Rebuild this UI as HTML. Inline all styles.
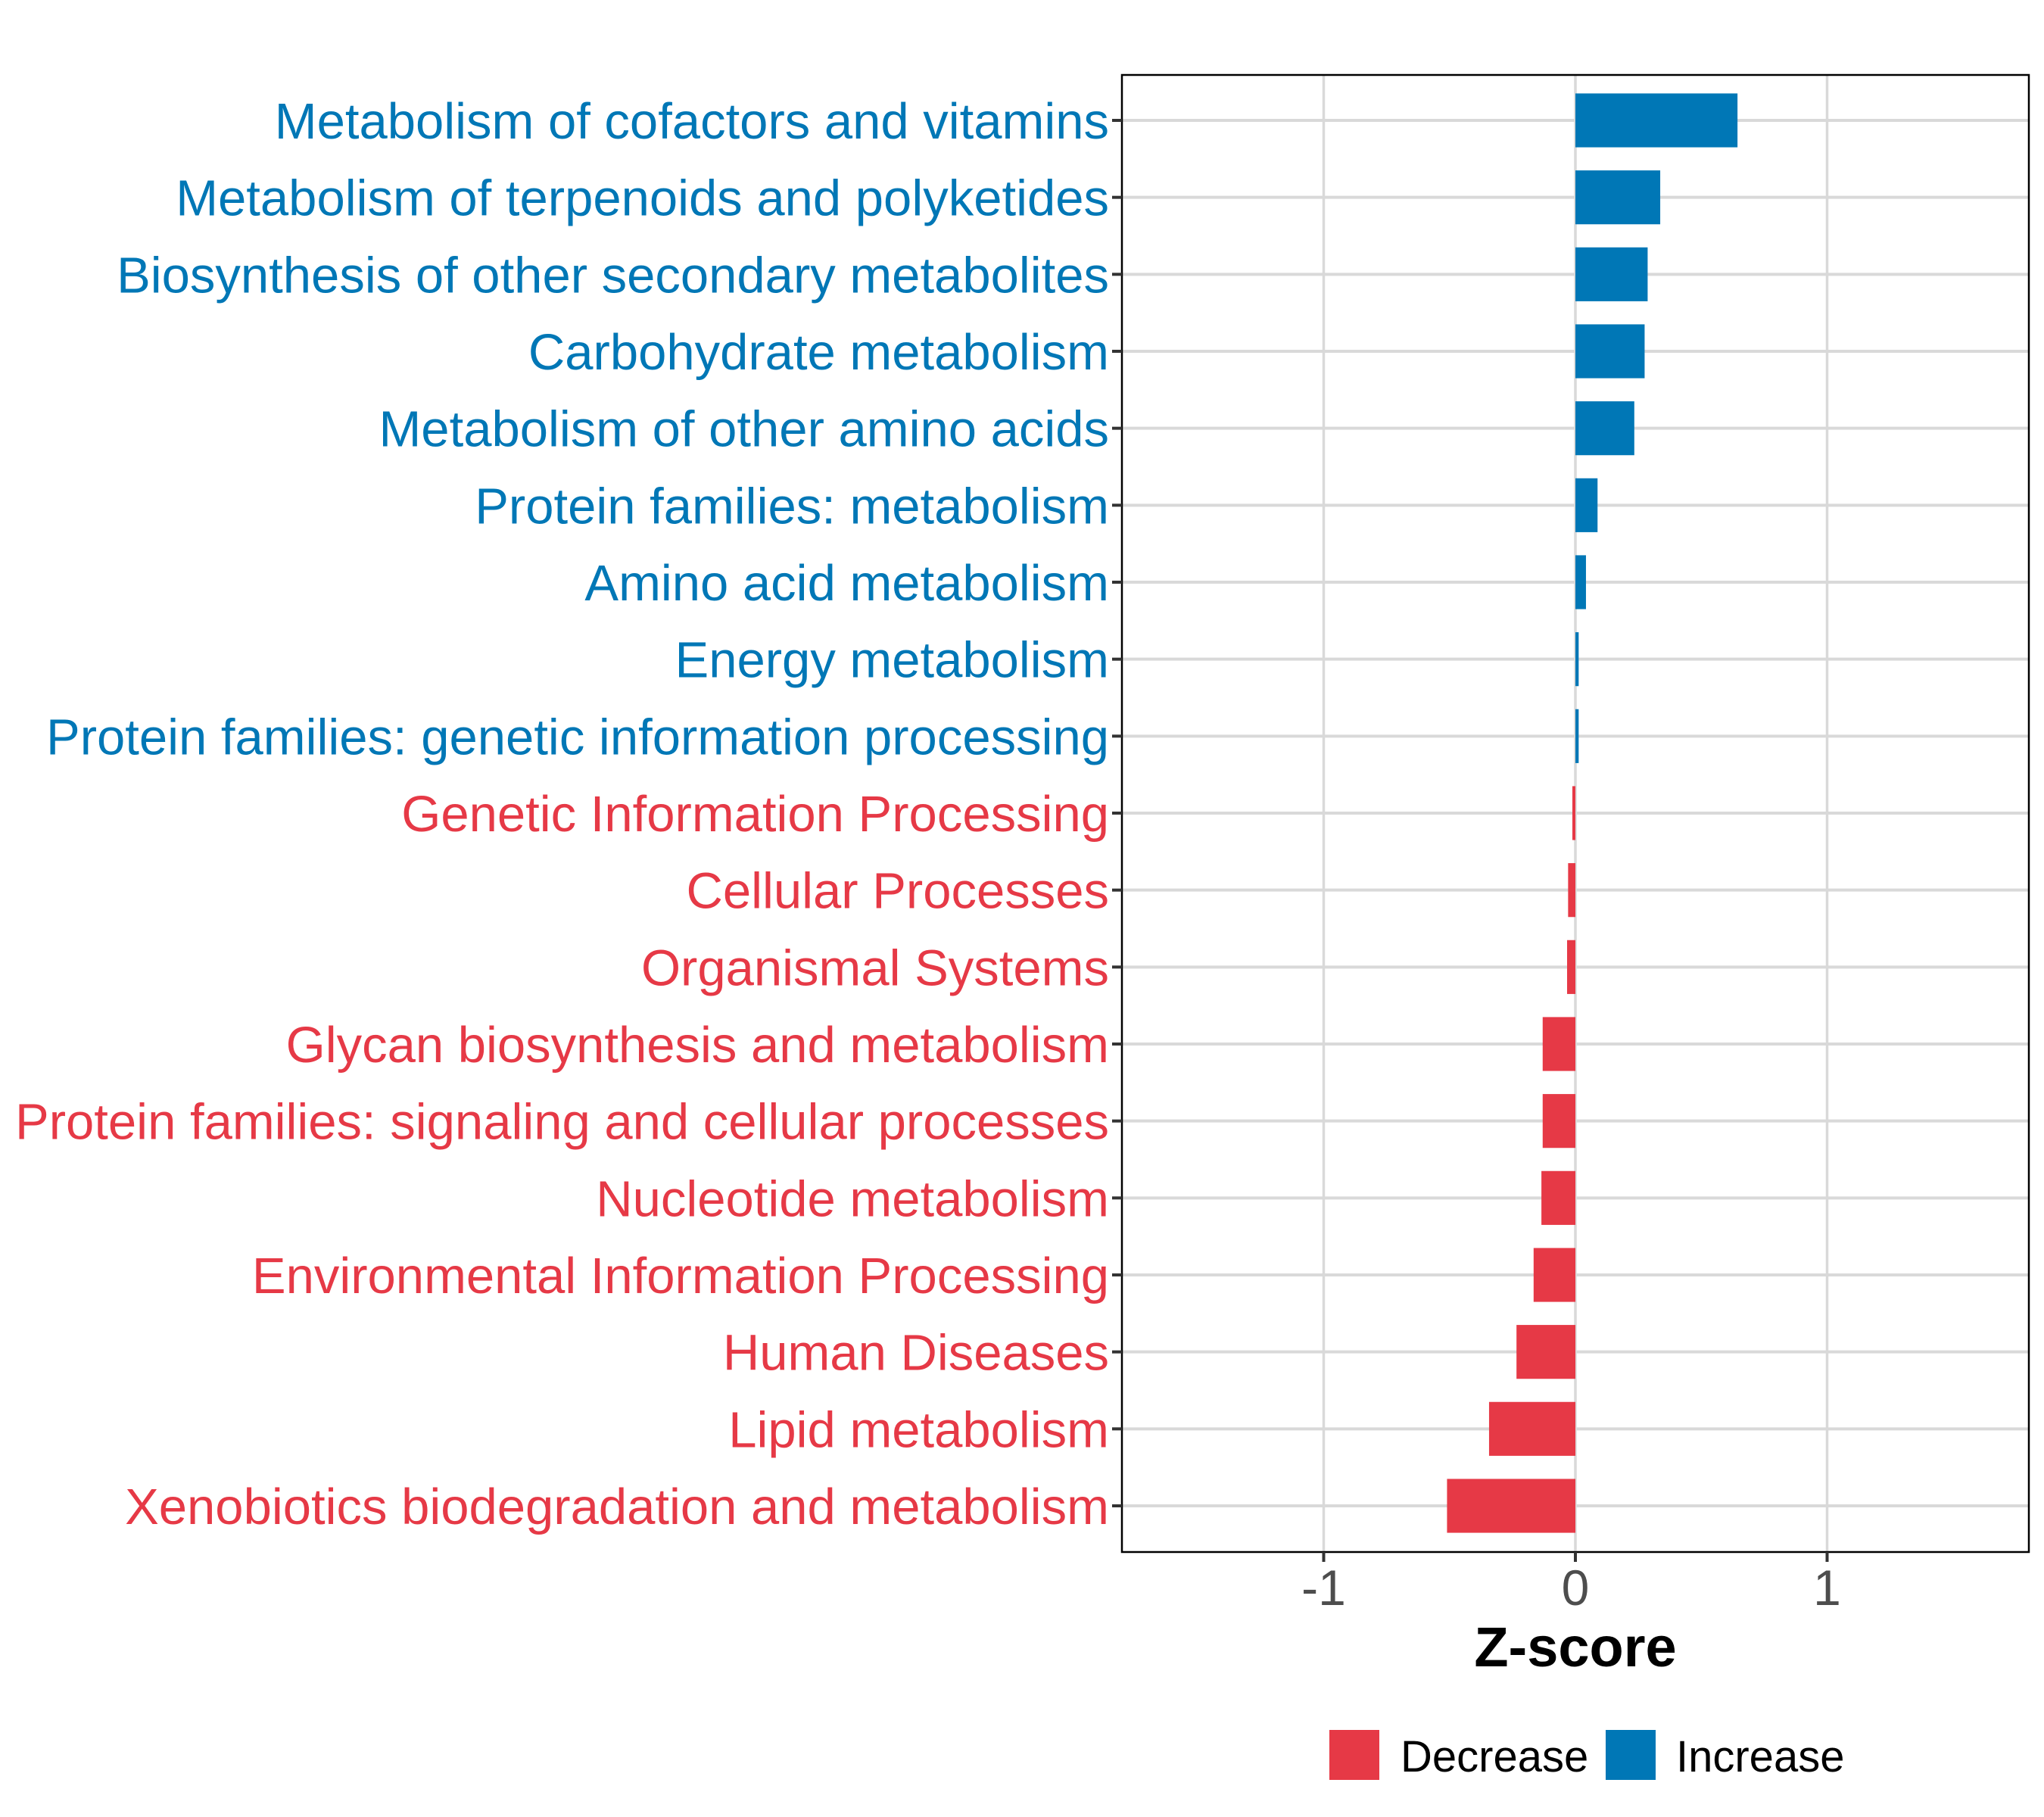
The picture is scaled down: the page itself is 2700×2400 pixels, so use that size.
<!DOCTYPE html>
<html><head><meta charset="utf-8"><style>
html,body{margin:0;padding:0;background:#fff;}
svg{display:block;font-family:"Liberation Sans",sans-serif;}
</style></head><body>
<svg id="chart" width="2700" height="2400" viewBox="0 0 2700 2400">
<rect x="0" y="0" width="2700" height="2400" fill="#fff"/>
<g id="grid"></g>
<g id="bars"></g>
<rect x="1482" y="99" width="1198" height="1951" fill="none" stroke="#000" stroke-width="2.5"/>
<g id="yaxis"></g>
<g id="xaxis"></g>
<text x="2081" y="2201" text-anchor="middle" font-size="74" font-weight="bold" fill="#000">Z-score</text>
<g>
<g>
<rect x="1756" y="2285" width="66" height="66" fill="#E63946"/>
<text x="1850" y="2340" font-size="58" fill="#000">Decrease</text>
</g>
<g>
<rect x="2121" y="2285" width="66" height="66" fill="#0077B6"/>
<text x="2214" y="2340" font-size="58" fill="#000">Increase</text>
</g>
</g>
</svg>
<script>
const categories = ["Metabolism of cofactors and vitamins","Metabolism of terpenoids and polyketides","Biosynthesis of other secondary metabolites","Carbohydrate metabolism","Metabolism of other amino acids","Protein families: metabolism","Amino acid metabolism","Energy metabolism","Protein families: genetic information processing","Genetic Information Processing","Cellular Processes","Organismal Systems","Glycan biosynthesis and metabolism","Protein families: signaling and cellular processes","Nucleotide metabolism","Environmental Information Processing","Human Diseases","Lipid metabolism","Xenobiotics biodegradation and metabolism"];
const zscores = [0.644, 0.337, 0.287, 0.275, 0.234, 0.088, 0.042, 0.013, 0.013, -0.012, -0.029, -0.033, -0.13, -0.13, -0.135, -0.166, -0.234, -0.343, -0.51];
const xTicks = [-1, 0, 1];
const xTickLabels = ["-1", "0", "1"];

const NS = "http://www.w3.org/2000/svg";
const PL = 1482, PR = 2680, PT = 99, PB = 2050;
const X0 = 2081, UNIT = 332.5;
function xs(v){ return X0 + v * UNIT; }
const ROW0 = 159, STEP = (1989 - 159) / (categories.length - 1);
function ys(i){ return ROW0 + i * STEP; }
const BLUE = "#0077B6", RED = "#E63946";
function mk(tag, attrs, parent){ const e = document.createElementNS(NS, tag); for (const k in attrs) e.setAttribute(k, attrs[k]); parent.appendChild(e); return e; }

const grid = document.getElementById("grid");
categories.forEach((c, i) => {
  const l = mk("line", {x1: PL, x2: PR, y1: ys(i), y2: ys(i), stroke: "#D9D9D9", "stroke-width": 4}, grid);
  
  
});
xTicks.forEach(t => {
  const l = mk("line", {x1: xs(t), x2: xs(t), y1: PT, y2: PB, stroke: "#D9D9D9", "stroke-width": 3.5}, grid);
  
  
});

const bars = document.getElementById("bars");
const BH = STEP * 0.7;
zscores.forEach((v, i) => {
  const x1 = Math.min(xs(0), xs(v)), w = Math.abs(xs(v) - xs(0));
  const r = mk("rect", {x: x1, y: ys(i) - BH / 2, width: Math.max(w, 1), height: BH, fill: v >= 0 ? BLUE : RED}, bars);
  
  
});

const ya = document.getElementById("yaxis");
categories.forEach((c, i) => {
  const t = mk("line", {x1: PL - 13, x2: PL, y1: ys(i), y2: ys(i), stroke: "#333", "stroke-width": 4}, ya);
  
  
  const tx = mk("text", {x: 1465, y: ys(i) + 24, "text-anchor": "end", "font-size": 67, fill: zscores[i] >= 0 ? BLUE : RED}, ya);
  tx.textContent = c;
  
  
});

const xa = document.getElementById("xaxis");
xTicks.forEach((t, i) => {
  const l = mk("line", {x1: xs(t), x2: xs(t), y1: PB, y2: PB + 13, stroke: "#333", "stroke-width": 4}, xa);
  
  
  const tx = mk("text", {x: xs(t), y: 2120, "text-anchor": "middle", "font-size": 66, fill: "#4D4D4D"}, xa);
  tx.textContent = xTickLabels[i];
  
  
});
</script>
</body></html>
